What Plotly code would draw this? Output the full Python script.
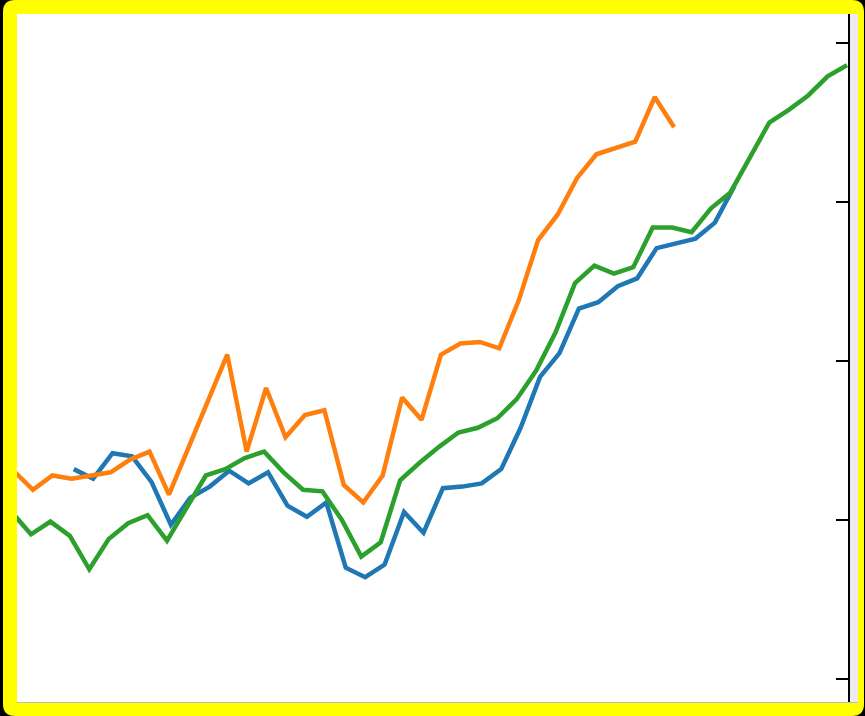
import plotly.graph_objects as go

# Period index for each series (green sampled on whole periods,
# orange and blue sampled slightly later within each period)
green_x = list(range(-1, 43))
orange_x = [k + 0.1 for k in range(-1, 34)]
blue_x = [k + 0.2 for k in range(2, 37)]

green_y = [1.05, 0.91, 0.99, 0.90, 0.69, 0.88, 0.98, 1.03, 0.87, 1.08,
           1.28, 1.32, 1.39, 1.43, 1.30, 1.19, 1.18, 1.00, 0.77, 0.86,
           1.25, 1.36, 1.46, 1.55, 1.58, 1.64, 1.76, 1.94, 2.18, 2.49,
           2.60, 2.55, 2.59, 2.84, 2.84, 2.81, 2.96, 3.06, 3.28, 3.50,
           3.58, 3.67, 3.79, 3.86]

orange_y = [1.31, 1.19, 1.28, 1.26, 1.28, 1.30, 1.38, 1.43, 1.16, 1.45,
            1.75, 2.04, 1.43, 1.83, 1.52, 1.66, 1.69, 1.22, 1.11, 1.28,
            1.77, 1.63, 2.04, 2.11, 2.12, 2.08, 2.38, 2.76, 2.92, 3.15,
            3.30, 3.34, 3.38, 3.66, 3.47]

blue_y = [1.32, 1.26, 1.42, 1.40, 1.24, 0.97, 1.14, 1.21, 1.31, 1.23,
          1.30, 1.09, 1.02, 1.11, 0.70, 0.64, 0.72, 1.05, 0.92, 1.20,
          1.21, 1.23, 1.32, 1.58, 1.90, 2.05, 2.33, 2.37, 2.47, 2.52,
          2.71, 2.74, 2.77, 2.87, 3.10]

y_ticks = [0, 1, 2, 3, 4]

W, H = 865, 716
ML, MR, MT, MB = 17, 17, 14, 13
PW, PH = W - ML - MR, H - MT - MB


def px(x):
    return (x - ML) / PW


def py(y):
    return (H - MB - y) / PH


def rounded_rect(x0, y0, x1, y1, r):
    a, b, c, d = px(x0), px(x1), py(y0), py(y1)
    rx, ry = r / PW, r / PH
    return (f"M {a + rx},{c} L {b - rx},{c} Q {b},{c} {b},{c - ry} "
            f"L {b},{d + ry} Q {b},{d} {b - rx},{d} L {a + rx},{d} "
            f"Q {a},{d} {a},{d + ry} L {a},{c - ry} Q {a},{c} {a + rx},{c} Z")


fig = go.Figure()
fig.add_trace(go.Scatter(x=blue_x, y=blue_y, mode="lines",
                         line=dict(color="#1f77b4", width=4.5)))
fig.add_trace(go.Scatter(x=orange_x, y=orange_y, mode="lines",
                         line=dict(color="#ff7f0e", width=4.5)))
fig.add_trace(go.Scatter(x=green_x, y=green_y, mode="lines",
                         line=dict(color="#2ca02c", width=4.5)))

shapes = [
    # yellow frame
    dict(type="path", xref="paper", yref="paper", layer="below",
         path=rounded_rect(3, 0, 864, 716, 12),
         fillcolor="#ffff00", line=dict(width=0)),
    # white panel
    dict(type="rect", xref="paper", yref="paper", layer="below",
         x0=px(17), x1=px(858), y0=py(703), y1=py(14),
         fillcolor="white", line=dict(width=0)),
    # light strip right of the axis
    dict(type="rect", xref="paper", yref="paper", layer="below",
         x0=px(849), x1=px(858), y0=py(703), y1=py(14),
         fillcolor="#ececec", line=dict(width=0)),
    # faint bottom edge
    dict(type="line", xref="paper", yref="paper", layer="above",
         x0=px(17), x1=px(858), y0=py(702.5), y1=py(702.5),
         line=dict(color="#bdbdbd", width=1)),
]

fig.update_layout(
    width=W, height=H,
    margin=dict(l=ML, r=MR, t=MT, b=MB),
    paper_bgcolor="black",
    plot_bgcolor="white",
    showlegend=False,
    shapes=shapes,
    xaxis=dict(range=[-0.72, 42.05], visible=False, fixedrange=True),
    yaxis=dict(range=[(679 - 703) / 159, (679 - 14) / 159],
               side="right", tickvals=y_ticks, showticklabels=False,
               ticks="inside", ticklen=12, tickwidth=2, tickcolor="black",
               showline=True, linecolor="black", linewidth=2,
               showgrid=False, zeroline=False, fixedrange=True),
)

fig.write_html("out.html")
